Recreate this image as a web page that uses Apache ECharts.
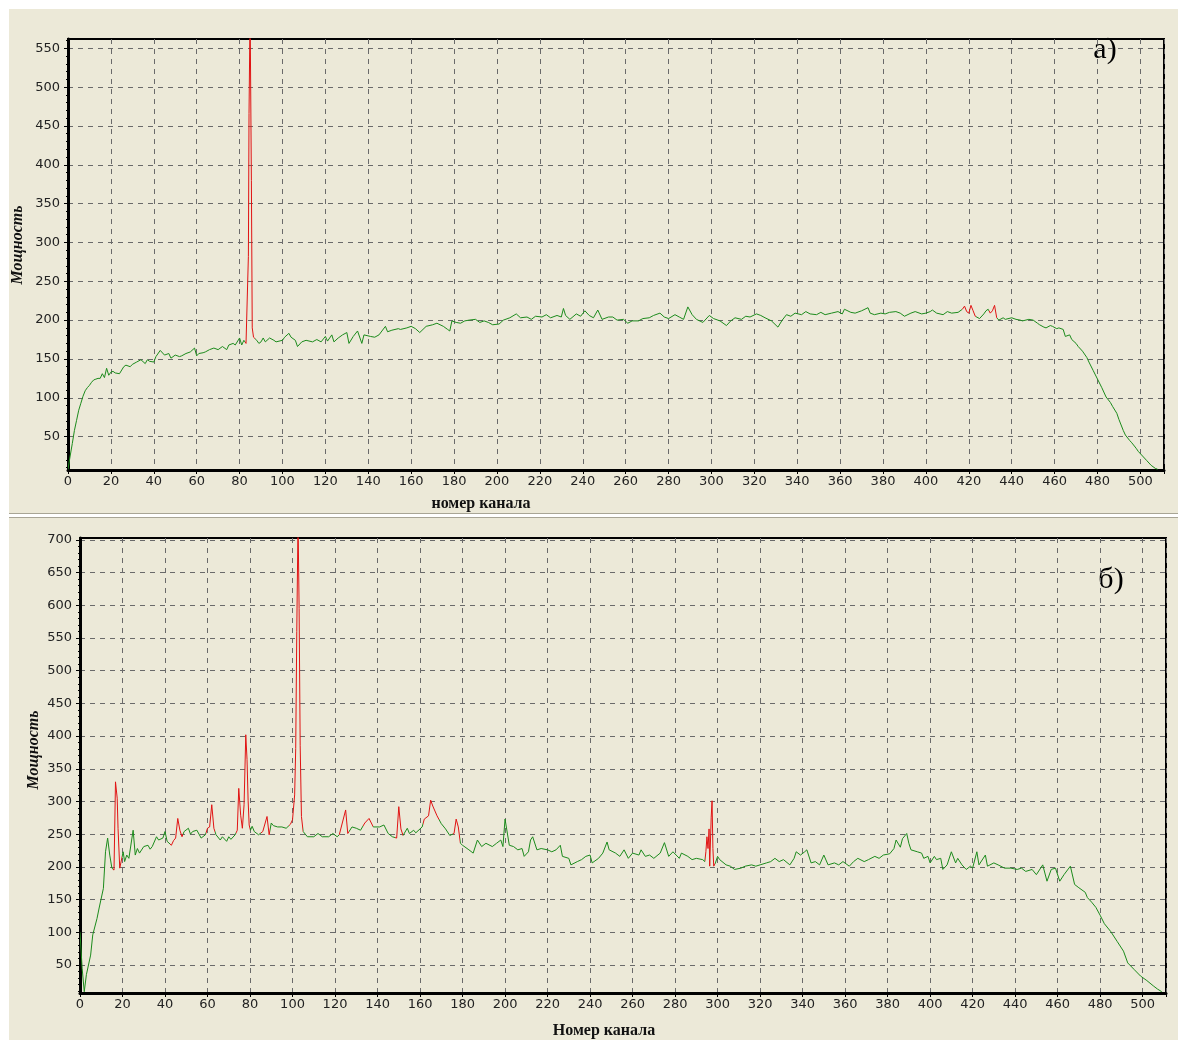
<!DOCTYPE html>
<html><head><meta charset="utf-8">
<script src="https://cdn.jsdelivr.net/npm/echarts@6/dist/echarts.min.js"></script>
<style>
html,body{margin:0;padding:0;background:#fff;width:1178px;height:1040px;overflow:hidden;}
#pa{position:absolute;left:9px;top:9px;width:1169px;height:504px;background:#ECE9D8;border-bottom:1px solid #a8a595;}
#pb{position:absolute;left:9px;top:517px;width:1169px;height:522px;background:#ECE9D8;border-top:1px solid #a8a595;}
</style></head>
<body><div id="pa"></div><div id="pb"></div>
<script>
// ---------- DATA ----------
const xTickLabels = [0,20,40,60,80,100,120,140,160,180,200,220,240,260,280,300,320,340,360,380,400,420,440,460,480,500];
const yTicksA = [50,100,150,200,250,300,350,400,450,500,550];
const yTicksB = [50,100,150,200,250,300,350,400,450,500,550,600,650,700];

// chart а): [channel, power]
const spectrumA = [[0,8],[1,25],[2,41],[3,58],[4,71],[5,84],[6,93],[7,102],[8,109],[9,113],[10,116],[11,120],[12,123],[13,124],[14,125],[15,125],[16,131],[17,126],[18,138],[19,129],[20,133],[21,134],[22,132],[24,131],[26,140],[27,142],[29,140],[30,143],[32,146],[34,149],[36,144],[37,149],[38,147],[40,146],[41,153],[43,161],[45,155],[47,157],[48,151],[50,155],[52,153],[53,154],[55,157],[57,159],[59,164],[60,154],[61,157],[63,158],[64,159],[66,162],[68,164],[70,162],[72,166],[74,162],[75,168],[77,170],[78,168],[80,177],[81,168],[82,174],[83,170],[83.8,172],[84.1,282],[84.4,466],[84.9,600],[85.5,380],[85.9,190],[86.5,178],[88,174],[89,170],[90,172],[91,177],[92,172],[94,177],[96,174],[97,172],[100,174],[101,178],[103,183],[104,178],[106,174],[107,166],[109,172],[111,174],[114,172],[116,175],[118,172],[120,179],[121,173],[123,181],[124,172],[126,177],[128,181],[130,184],[131,170],[133,179],[135,186],[137,170],[138,181],[141,179],[143,178],[145,181],[148,192],[149,185],[151,187],[154,189],[155,188],[158,190],[160,192],[162,189],[164,184],[167,192],[170,194],[172,196],[175,192],[177,188],[178,186],[179,199],[181,197],[183,196],[185,199],[187,200],[190,201],[192,197],[194,199],[196,197],[198,194],[201,195],[203,200],[206,203],[209,208],[211,203],[214,204],[216,201],[218,205],[221,204],[223,207],[225,203],[228,206],[230,204],[231,215],[232,206],[234,201],[237,208],[239,205],[241,212],[243,206],[245,203],[247,213],[249,201],[252,204],[254,204],[256,200],[259,201],[261,196],[263,199],[266,199],[268,202],[271,203],[273,206],[276,209],[278,204],[280,202],[283,207],[285,204],[287,201],[289,217],[291,207],[293,201],[296,197],[299,206],[301,202],[304,199],[307,193],[309,199],[311,203],[314,201],[316,205],[318,204],[321,208],[323,206],[325,203],[328,199],[331,191],[333,200],[335,207],[337,205],[339,209],[342,207],[344,211],[346,208],[349,207],[351,210],[353,207],[356,209],[359,211],[361,208],[362,214],[365,210],[367,209],[370,212],[373,216],[374,209],[376,207],[379,209],[381,208],[383,210],[386,211],[388,209],[390,205],[393,209],[395,211],[398,208],[400,209],[402,211],[403,213],[405,209],[408,207],[410,211],[412,209],[415,210],[417,214],[418,218],[419,211],[420,209],[421,219],[422,212],[423,205],[425,202],[427,208],[428,212],[429,214],[430,209],[431,212],[432,219],[433,203],[434,200],[436,203],[437,201],[440,203],[442,201],[444,200],[445,199],[448,201],[450,200],[452,196],[453,194],[455,191],[456,190],[458,193],[459,192],[461,189],[462,190],[464,188],[465,179],[467,181],[468,175],[470,170],[471,166],[473,160],[475,152],[476,146],[478,135],[480,124],[482,113],[484,101],[486,94],[487,89],[489,80],[490,72],[492,58],[493,52],[495,45],[496,42],[498,35],[499,31],[501,25],[503,19],[505,13],[507,9],[508,8]];
const peaksA = [[82.6,87],[416.8,423.3],[429.2,433.3]];

// chart б): [channel, power]
const spectrumB = [[0,100],[1,45],[2,9],[3,35],[5,65],[6,96],[8,121],[9,137],[11,167],[12,223],[13,244],[14,218],[15,198],[16,195],[16.7,330],[17.5,305],[17.9,259],[18.7,198],[19.5,198],[20.3,223],[21,208],[22,218],[23,213],[25,256],[26,218],[27,228],[28,221],[30,231],[32,233],[33,227],[34,231],[36,246],[37,241],[39,244],[40,254],[41,239],[43,233],[44,240],[45,244],[46,274],[47,256],[48,246],[49,254],[51,259],[52,250],[53,254],[55,256],[57,244],[59,249],[60,259],[61,261],[62,295],[63,259],[64,249],[66,241],[67,246],[69,239],[70,246],[71,242],[73,249],[74,256],[74.7,320],[75.6,279],[76.4,259],[77.2,295],[78,402],[78.6,364],[79.1,302],[79.6,264],[80.2,256],[81,262],[82,254],[84,249],[86,254],[88,277],[89,249],[90,267],[91,263],[93,261],[95,261],[97,259],[99,265],[100,272],[101,310],[101.5,381],[102,560],[102.6,730],[103.1,595],[103.6,386],[104.2,277],[105,254],[107,246],[110,246],[112,251],[114,246],[117,246],[119,251],[121,246],[122,249],[125,287],[126,251],[128,261],[130,259],[132,256],[134,267],[136,274],[138,261],[141,261],[143,264],[145,251],[147,246],[149,244],[150,292],[151,258],[152,248],[154,259],[155,251],[157,256],[158,252],[161,261],[162,273],[164,278],[165,302],[166,293],[168,278],[170,266],[172,258],[174,248],[176,251],[177,273],[178,261],[179,236],[180,233],[183,226],[185,221],[187,241],[189,231],[191,236],[194,231],[196,236],[198,241],[199,231],[200,273],[202,233],[204,231],[206,226],[208,228],[209,216],[211,223],[212,241],[213,246],[215,226],[217,228],[220,226],[222,223],[224,226],[226,233],[227,216],[230,213],[231,203],[234,208],[236,211],[238,216],[240,218],[241,206],[244,213],[246,221],[248,238],[249,226],[252,221],[254,216],[256,226],[258,213],[260,221],[263,218],[264,226],[266,216],[268,218],[270,213],[273,221],[275,237],[277,216],[279,223],[282,213],[283,221],[286,216],[288,211],[290,213],[293,211],[294,208],[294.5,223],[295,246],[295.5,228],[296,258],[296.3,201],[297,276],[297.4,301],[297.8,228],[298.2,201],[299,206],[300,216],[301,211],[304,203],[306,201],[308,196],[311,198],[313,201],[316,203],[318,201],[320,203],[323,206],[325,208],[327,213],[329,208],[331,211],[334,203],[336,213],[337,223],[339,218],[341,223],[342,226],[344,206],[346,208],[348,203],[350,218],[352,203],[355,206],[357,203],[359,208],[362,201],[364,208],[366,213],[369,208],[371,211],[374,216],[376,213],[378,218],[381,220],[383,228],[384,241],[386,230],[387,243],[389,251],[390,236],[391,226],[394,223],[396,221],[397,213],[399,216],[400,206],[402,216],[403,211],[405,213],[406,196],[408,203],[410,223],[412,206],[413,213],[415,203],[417,196],[419,201],[420,198],[422,223],[423,203],[426,218],[427,201],[430,206],[432,203],[435,198],[438,198],[441,196],[443,198],[445,193],[448,196],[450,188],[453,203],[455,178],[457,196],[459,198],[461,178],[463,188],[466,201],[468,173],[470,168],[473,161],[474,153],[476,146],[478,138],[480,126],[482,113],[485,101],[488,86],[491,71],[493,53],[496,43],[499,33],[502,26],[505,18],[507,13],[509,9]];
const peaksB = [[15.5,19.8],[42.5,48.3],[59.3,63.6],[73.4,80.1],[85.3,89.3],[98.5,104.8],[121.8,126.5],[133.3,137.8],[148.3,151.8],[161.5,169],[175.3,179],[294.2,298.6]];

// ---------- STYLE / BUILD ----------
const GREEN = '#1b8a1b', RED = '#e01212';
const X_MAX = 511;
const LABEL_FONT = 'DejaVu Sans';

function piecesFrom(ranges, lo, hi) {
  const p = []; let cur = lo;
  ranges.forEach(([a, b], i) => {
    if (a > cur) p.push(i === 0 ? {gte: cur, lt: a, color: GREEN} : {gt: cur, lt: a, color: GREEN});
    p.push({gte: a, lte: b, color: RED});
    cur = b;
  });
  p.push({gt: cur, lte: hi, color: GREEN});
  return p;
}
function minorTicks(lo, hi, step) {
  const out = [];
  for (let v = Math.ceil(lo / step) * step; v <= hi; v += step) out.push(v);
  return out;
}
function buildOption(o) {
  const grid = '#6a6a6a';
  return {
    animation: false,
    backgroundColor: 'transparent',
    grid: {left: o.left, top: o.top, width: o.width, height: o.height, show: true, borderColor: '#000', borderWidth: 2, backgroundColor: 'transparent'},
    xAxis: [{
      type: 'value', min: 0, max: X_MAX, interval: 20,
      axisLine: {show: true, onZero: false, lineStyle: {color: '#000', width: 3}},
      axisTick: {show: true, length: 4, lineStyle: {color: '#000', width: 1}},
      minorTick: {show: true, splitNumber: 5, length: 2, lineStyle: {color: '#000', width: 1}},
      axisLabel: {margin: 5, color: '#222', fontFamily: LABEL_FONT, fontSize: 13, showMaxLabel: false,
        formatter: v => xTickLabels.indexOf(v) >= 0 ? String(v) : ''},
      splitLine: {show: true, lineStyle: {color: grid, type: [5, 5], width: 1}},
      minorSplitLine: {show: false}
    }],
    yAxis: [{
      type: 'value', min: o.ymin, max: o.ymax, position: 'left',
      axisLine: {show: true, onZero: false, lineStyle: {color: '#000', width: 3}},
      axisTick: {show: true, length: 4, customValues: o.yticks, lineStyle: {color: '#000', width: 1}},
      axisLabel: {customValues: o.yticks, margin: 8, color: '#222', fontFamily: LABEL_FONT, fontSize: 13},
      splitLine: {show: true, lineStyle: {color: grid, type: [5, 5], width: 1}}
    }, {
      type: 'value', min: o.ymin, max: o.ymax, position: 'left', offset: 0,
      axisLine: {show: false},
      axisTick: {show: true, length: 2, customValues: minorTicks(o.ymin, o.ymax, 10), lineStyle: {color: '#000', width: 1}},
      axisLabel: {show: false}, splitLine: {show: false}
    }],
    visualMap: [{type: 'piecewise', show: false, dimension: 0, seriesIndex: 0, pieces: piecesFrom(o.peaks, 0, X_MAX)}],
    series: [{type: 'line', data: o.data, symbol: 'none', showSymbol: false, clip: true, lineStyle: {width: 1}, xAxisIndex: 0, yAxisIndex: 0}],
    graphic: o.graphic
  };
}

const chartA = echarts.init(document.getElementById('pa'), null, {renderer: 'canvas'});
chartA.setOption(buildOption({
  left: 59, top: 30, width: 1096, height: 431, ymin: 7, ymax: 562, yticks: yTicksA,
  data: spectrumA, peaks: peaksA,
  graphic: [
    {type: 'text', x: 9, y: 236, rotation: Math.PI / 2, style: {text: 'Мощность', fontFamily: 'Liberation Serif', fontSize: 16, fontWeight: 'bold', fontStyle: 'italic', fill: '#111', align: 'center', verticalAlign: 'middle'}},
    {type: 'text', x: 472, y: 495, style: {text: 'номер канала', fontFamily: 'Liberation Serif', fontSize: 16, fontWeight: 'bold', fill: '#111', align: 'center', verticalAlign: 'middle'}},
    {type: 'text', x: 1096, y: 41, style: {text: 'а)', fontFamily: 'Liberation Serif', fontSize: 30, fill: '#000', align: 'center', verticalAlign: 'middle'}}
  ]
}));

const chartB = echarts.init(document.getElementById('pb'), null, {renderer: 'canvas'});
chartB.setOption(buildOption({
  left: 71, top: 20, width: 1086, height: 455, ymin: 7, ymax: 703, yticks: yTicksB,
  data: spectrumB, peaks: peaksB,
  graphic: [
    {type: 'text', x: 25, y: 232, rotation: Math.PI / 2, style: {text: 'Мощность', fontFamily: 'Liberation Serif', fontSize: 16, fontWeight: 'bold', fontStyle: 'italic', fill: '#111', align: 'center', verticalAlign: 'middle'}},
    {type: 'text', x: 595, y: 513, style: {text: 'Номер канала', fontFamily: 'Liberation Serif', fontSize: 16, fontWeight: 'bold', fill: '#111', align: 'center', verticalAlign: 'middle'}},
    {type: 'text', x: 1102, y: 62, style: {text: 'б)', fontFamily: 'Liberation Serif', fontSize: 30, fill: '#000', align: 'center', verticalAlign: 'middle'}}
  ]
}));
</script>
</body></html>
